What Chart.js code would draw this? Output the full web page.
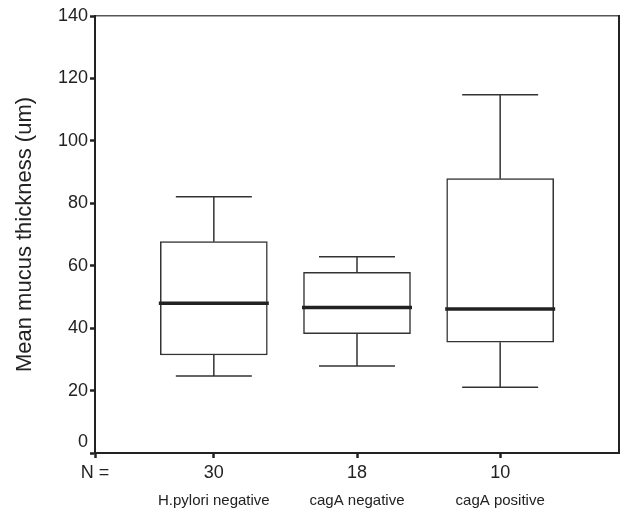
<!DOCTYPE html>
<html>
<head>
<meta charset="utf-8">
<script src="https://cdn.jsdelivr.net/npm/chart.js@4.4.1/dist/chart.umd.min.js"></script>
<style>
  html, body { margin: 0; padding: 0; background: #fff; }
  #wrap { width: 620px; height: 509px; }
</style>
</head>
<body>
<div id="wrap"><canvas id="chart"></canvas></div>
<script>
/*global Chart*/
'use strict';

//
// Values.
//
var groups = ['H.pylori negative', 'cagA negative', 'cagA positive'];
var counts = [30, 18, 10];
var whiskerLow = [24.7, 27.9, 21.1];
var quartile1 = [31.4, 38.2, 35.5];
var median = [48.0, 46.6, 46.1];
var quartile3 = [67.7, 57.9, 87.9];
var whiskerHigh = [82.1, 62.9, 114.8];
var yTicks = [0, 20, 40, 60, 80, 100, 120, 140];

var X_MIN = 0.17, X_MAX = 3.83;
var FONT = '"Liberation Sans", Arial, sans-serif';
var INK = '#222';

var positions = groups.map(function (g, i) { return i + 1; });

/**
 * Draw whiskers, caps and medians on top of the box bars.
 */
var boxPlot = {
  id: 'boxPlot',
  afterDatasetsDraw: function (chart) {
    var ctx = chart.ctx
      , x = chart.scales.x
      , y = chart.scales.y;

    ctx.save();
    positions.forEach(function (pos, i) {
      var cx = x.getPixelForValue(pos)
        , capHalf = 38
        , boxHalf = 54;

      ctx.strokeStyle = '#333';
      ctx.lineWidth = 1.5;
      ctx.beginPath();
      ctx.moveTo(cx, y.getPixelForValue(quartile3[i]));
      ctx.lineTo(cx, y.getPixelForValue(whiskerHigh[i]));
      ctx.moveTo(cx - capHalf, y.getPixelForValue(whiskerHigh[i]));
      ctx.lineTo(cx + capHalf, y.getPixelForValue(whiskerHigh[i]));
      ctx.moveTo(cx, y.getPixelForValue(quartile1[i]));
      ctx.lineTo(cx, y.getPixelForValue(whiskerLow[i]));
      ctx.moveTo(cx - capHalf, y.getPixelForValue(whiskerLow[i]));
      ctx.lineTo(cx + capHalf, y.getPixelForValue(whiskerLow[i]));
      ctx.stroke();

      //
      // Thick median line across the whole box.
      //
      ctx.strokeStyle = INK;
      ctx.lineWidth = 3.5;
      ctx.beginPath();
      ctx.moveTo(cx - boxHalf - 1, y.getPixelForValue(median[i]));
      ctx.lineTo(cx + boxHalf + 1, y.getPixelForValue(median[i]));
      ctx.stroke();
    });
    ctx.restore();
  }
};

function fixedTicks(values) {
  return function (scale) {
    scale.ticks = values.map(function (v) { return { value: v }; });
  };
}

new Chart(document.getElementById('chart'), {
  type: 'bar',
  data: {
    datasets: [{
      data: positions.map(function (pos, i) {
        return { x: pos, y: [quartile1[i], quartile3[i]] };
      }),
      backgroundColor: '#fff',
      borderColor: '#333',
      borderWidth: 1.5,
      borderSkipped: false,
      barThickness: 107,
      xAxisID: 'x',
      yAxisID: 'y'
    }]
  },
  options: {
    responsive: true,
    maintainAspectRatio: false,
    animation: false,
    layout: { padding: 0 },
    plugins: {
      legend: { display: false },
      tooltip: { enabled: false }
    },
    scales: {
      x: {
        type: 'linear',
        position: 'bottom',
        weight: 0,
        offset: false,
        min: X_MIN,
        max: X_MAX,
        afterBuildTicks: fixedTicks([X_MIN].concat(positions)),
        afterFit: function (scale) { scale.height = 28; },
        grid: {
          offset: false,
          drawOnChartArea: false,
          drawTicks: true,
          tickLength: 5,
          tickWidth: 2.5,
          tickColor: INK
        },
        border: { display: true, color: INK, width: 2 },
        ticks: {
          autoSkip: false,
          maxRotation: 0,
          padding: 4,
          color: INK,
          font: { family: FONT, size: 18 },
          callback: function (value, index) {
            return index === 0 ? 'N =' : String(counts[index - 1]);
          }
        }
      },
      groups: {
        type: 'linear',
        position: 'bottom',
        weight: 1,
        offset: false,
        min: X_MIN,
        max: X_MAX,
        afterBuildTicks: fixedTicks(positions),
        afterFit: function (scale) { scale.height = 28; },
        grid: { display: false, offset: false, drawTicks: false, tickLength: 0 },
        border: { display: false },
        ticks: {
          autoSkip: false,
          maxRotation: 0,
          padding: 11,
          color: INK,
          font: { family: FONT, size: 15 },
          callback: function (value, index) { return groups[index]; }
        }
      },
      top: {
        type: 'linear',
        position: 'top',
        offset: false,
        afterFit: function (scale) { scale.height = 16; },
        grid: { display: false, drawTicks: false },
        border: { display: true, color: '#555', width: 1.5 },
        ticks: { display: false }
      },
      y: {
        type: 'linear',
        position: 'left',
        min: 0,
        max: 140,
        afterBuildTicks: fixedTicks(yTicks),
        afterFit: function (scale) { scale.width = 95; },
        grid: {
          drawOnChartArea: false,
          drawTicks: true,
          tickLength: 5,
          tickWidth: 2.5,
          tickColor: INK
        },
        border: { display: true, color: INK, width: 2 },
        ticks: {
          padding: 2,
          color: INK,
          font: { family: FONT, size: 18 },
          callback: function (value) {
            // the zero label sits a little above the axis
            return value === 0 ? ['0', ''] : String(value);
          }
        },
        title: {
          display: true,
          text: 'Mean mucus thickness (um)',
          color: INK,
          font: { family: FONT, size: 22 },
          padding: { top: 12, bottom: 0 }
        }
      },
      right: {
        type: 'linear',
        position: 'right',
        afterFit: function (scale) { scale.width = 1; },
        grid: { display: false, drawTicks: false },
        border: { display: true, color: INK, width: 2 },
        ticks: { display: false }
      }
    }
  },
  plugins: [boxPlot]
});
</script>
</body>
</html>
